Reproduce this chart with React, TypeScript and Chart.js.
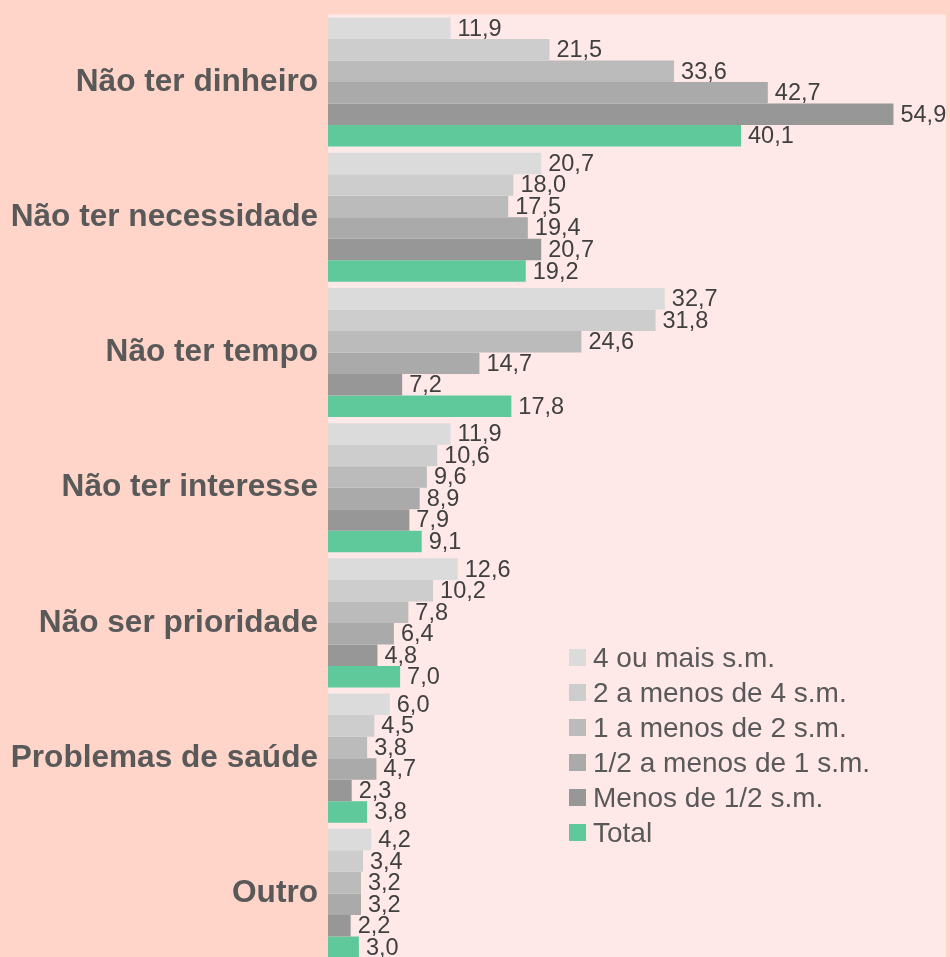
import React, { useEffect, useRef } from "react";
import { Chart, registerables } from "chart.js";

Chart.register(...registerables);

const categories = [
  "Não ter dinheiro",
  "Não ter necessidade",
  "Não ter tempo",
  "Não ter interesse",
  "Não ser prioridade",
  "Problemas de saúde",
  "Outro",
];

const seriesNames = [
  "4 ou mais s.m.",
  "2 a menos de 4 s.m.",
  "1 a menos de 2 s.m.",
  "1/2 a menos de 1 s.m.",
  "Menos de 1/2 s.m.",
  "Total",
];

const s4ouMais = [11.9, 20.7, 32.7, 11.9, 12.6, 6.0, 4.2];
const s2a4 = [21.5, 18.0, 31.8, 10.6, 10.2, 4.5, 3.4];
const s1a2 = [33.6, 17.5, 24.6, 9.6, 7.8, 3.8, 3.2];
const sMeioA1 = [42.7, 19.4, 14.7, 8.9, 6.4, 4.7, 3.2];
const sMenosMeio = [54.9, 20.7, 7.2, 7.9, 4.8, 2.3, 2.2];
const sTotal = [40.1, 19.2, 17.8, 9.1, 7.0, 3.8, 3.0];

const seriesValues = [s4ouMais, s2a4, s1a2, sMeioA1, sMenosMeio, sTotal];
const seriesColors = ["#DBDBDB", "#CDCDCD", "#BBBBBB", "#AAAAAA", "#979797", "#5FC99B"];

const FONT = "'Liberation Sans', Arial, Helvetica, sans-serif";

const bgPlugin = {
  id: "plotBg",
  beforeDraw(chart: any) {
    const { ctx, chartArea } = chart;
    ctx.save();
    ctx.fillStyle = "#FFE8E8";
    ctx.fillRect(chartArea.left, chartArea.top, chartArea.right - chartArea.left, chartArea.bottom - chartArea.top);
    ctx.restore();
  },
};

const labelPlugin = {
  id: "valueLabels",
  afterDatasetsDraw(chart: any) {
    const { ctx } = chart;
    ctx.save();
    ctx.font = `23.5px ${FONT}`;
    ctx.fillStyle = "#404040";
    ctx.textAlign = "left";
    ctx.textBaseline = "middle";
    chart.data.datasets.forEach((ds: any, di: number) => {
      const meta = chart.getDatasetMeta(di);
      meta.data.forEach((bar: any, i: number) => {
        const v = ds.data[i] as number;
        ctx.fillText(v.toFixed(1).replace(".", ","), bar.x + 7, bar.y + 1);
      });
    });
    ctx.restore();
  },
};

export default function App() {
  const canvasRef = useRef<HTMLCanvasElement | null>(null);

  useEffect(() => {
    if (!canvasRef.current) return;
    const chart = new Chart(canvasRef.current, {
      type: "bar",
      data: {
        labels: categories,
        datasets: seriesNames.map((name, i) => ({
          label: name,
          data: seriesValues[i],
          backgroundColor: seriesColors[i],
          borderWidth: 0,
          categoryPercentage: 0.955,
          barPercentage: 1.0,
        })),
      },
      options: {
        indexAxis: "y",
        responsive: false,
        maintainAspectRatio: false,
        animation: false,
        layout: { padding: { top: 14.4, right: 4, left: 0, bottom: 0 } },
        plugins: {
          legend: { display: false },
          tooltip: { enabled: false },
        },
        scales: {
          x: {
            display: false,
            min: 0,
            max: 60,
          },
          y: {
            grid: { display: false, drawTicks: false },
            border: { display: false },
            ticks: {
              padding: 10,
              color: "#595959",
              font: { family: FONT, size: 31.6, weight: "bold" },
            },
            afterFit(scale: any) {
              scale.width = 328;
              scale.paddingTop = 0;
              scale.paddingBottom = 0;
            },
          },
        },
      },
      plugins: [bgPlugin, labelPlugin],
    });
    return () => chart.destroy();
  }, []);

  return (
    <div
      style={{
        position: "fixed",
        left: 0,
        top: 0,
        width: 950,
        height: 957,
        overflow: "hidden",
        background: "#FFD5C9",
      }}
    >
      <canvas ref={canvasRef} width={950} height={961} style={{ display: "block" }} />
      <div style={{ position: "absolute", left: 569, top: 639.5, fontFamily: FONT }}>
        {seriesNames.map((name, i) => (
          <div
            key={name}
            style={{ display: "flex", alignItems: "center", height: 35, whiteSpace: "nowrap" }}
          >
            <span
              style={{
                display: "inline-block",
                width: 17,
                height: 17,
                background: seriesColors[i],
                marginRight: 7,
              }}
            />
            <span style={{ fontSize: 28, color: "#595959", lineHeight: "35px" }}>{name}</span>
          </div>
        ))}
      </div>
    </div>
  );
}
